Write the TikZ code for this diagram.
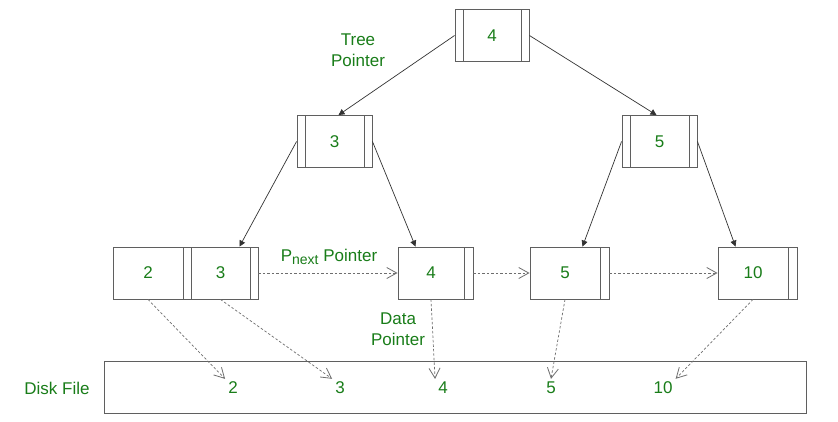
\documentclass[tikz,border=0pt]{standalone}
\usepackage{fontspec}
\setmainfont{Liberation Sans}
\usetikzlibrary{arrows.meta,calc}
\definecolor{txtgreen}{RGB}{25,125,25}
\definecolor{boxgray}{RGB}{95,95,95}
\definecolor{dashgray}{RGB}{110,110,110}
\begin{document}
\begin{tikzpicture}[x=1pt,y=-1pt,
  font=\fontsize{17}{21}\selectfont,
  keybox/.style={draw=boxgray, line width=0.9pt, fill=white, minimum height=52pt, inner sep=0pt, text=txtgreen},
  dbl/.style={keybox, path picture={
    \draw[boxgray, line width=0.9pt]
      ([xshift=8pt]path picture bounding box.north west) -- ([xshift=8pt]path picture bounding box.south west)
      ([xshift=-8pt]path picture bounding box.north east) -- ([xshift=-8pt]path picture bounding box.south east);}},
  leafbox/.style={keybox, path picture={
    \draw[boxgray, line width=0.9pt]
      ([xshift=-#1]path picture bounding box.north east) -- ([xshift=-#1]path picture bounding box.south east);}},
  lbl/.style={text=txtgreen, inner sep=0pt, align=center},
  dnum/.style={text=txtgreen, inner sep=3pt},
  tp/.style={draw=black!80, line width=0.7pt, -{Triangle[length=6pt,width=6pt]}},
  dp/.style={draw=dashgray, line width=0.7pt, dash pattern=on 2.5pt off 2pt,
    -{Straight Barb[length=10pt,width=11pt,line width=0.8pt]}}
]
\useasboundingbox[fill=white] (0,0) rectangle (838,421);

% internal nodes
\node[dbl, minimum width=74pt] (root) at (492,35.5) {4};
\node[dbl, minimum width=75pt] (n3) at (334.5,141.5) {3};
\node[dbl, minimum width=75pt] (n5) at (659.5,141.5) {5};

% leaf nodes
\node[leafbox=8pt, minimum width=78pt] (l2) at (152,273) {\hspace*{-8pt}2};
\node[leafbox=8pt, minimum width=67pt] (l3) at (224.5,273) {\hspace*{-8pt}3};
\node[leafbox=9pt, minimum width=75pt] (l4) at (435.5,273) {\hspace*{-9pt}4};
\node[leafbox=9pt, minimum width=79pt] (l5) at (569.5,273) {\hspace*{-9pt}5};
\node[leafbox=9pt, minimum width=79pt] (l10) at (757.5,273) {\hspace*{-9pt}10};

% disk file
\node[draw=boxgray, line width=0.9pt, minimum width=702pt, minimum height=52pt, inner sep=0pt] (disk) at (455,387) {};
\node[lbl] (dlabel) at (57,388) {Disk File};
\node[dnum] (d2) at (233,388) {2};
\node[dnum] (d3) at (340,388) {3};
\node[dnum] (d4) at (443,388) {4};
\node[dnum] (d5) at (551,388) {5};
\node[dnum] (d10) at (663,388) {10};

% labels
\node[lbl] (tpl) at (358,50) {Tree\\Pointer};
\node[lbl] (pnl) at (329,257) {P\raisebox{-3.5pt}{\fontsize{14}{14}\selectfont next} Pointer};
\node[lbl] (dpl) at (398,329) {Data\\Pointer};

% tree pointers
\draw[tp] (root.west) -- ([xshift=4pt]n3.north);
\draw[tp] (root.east) -- ([xshift=-3pt]n5.north);
\draw[tp] (n3.west) -- ([xshift=15pt]l3.north);
\draw[tp] (n3.east) -- ([xshift=-20pt]l4.north);
\draw[tp] (n5.west) -- ([xshift=13pt]l5.north);
\draw[tp] (n5.east) -- ([xshift=-22pt]l10.north);

% next pointers
\draw[dp] (l3.east) -- (l4.west);
\draw[dp] (l4.east) -- (l5.west);
\draw[dp] (l5.east) -- (l10.west);

% data pointers
\draw[dp] ([xshift=-4pt]l2.south) -- (d2.north west);
\draw[dp] ([xshift=-4pt]l3.south) -- (d3.north west);
\draw[dp] ([xshift=-4.5pt]l4.south) -- (d4.north west);
\draw[dp] ([xshift=-4.5pt]l5.south) -- (d5.north);
\draw[dp] ([xshift=-4.5pt]l10.south) -- (d10.north east);
\end{tikzpicture}
\end{document}
